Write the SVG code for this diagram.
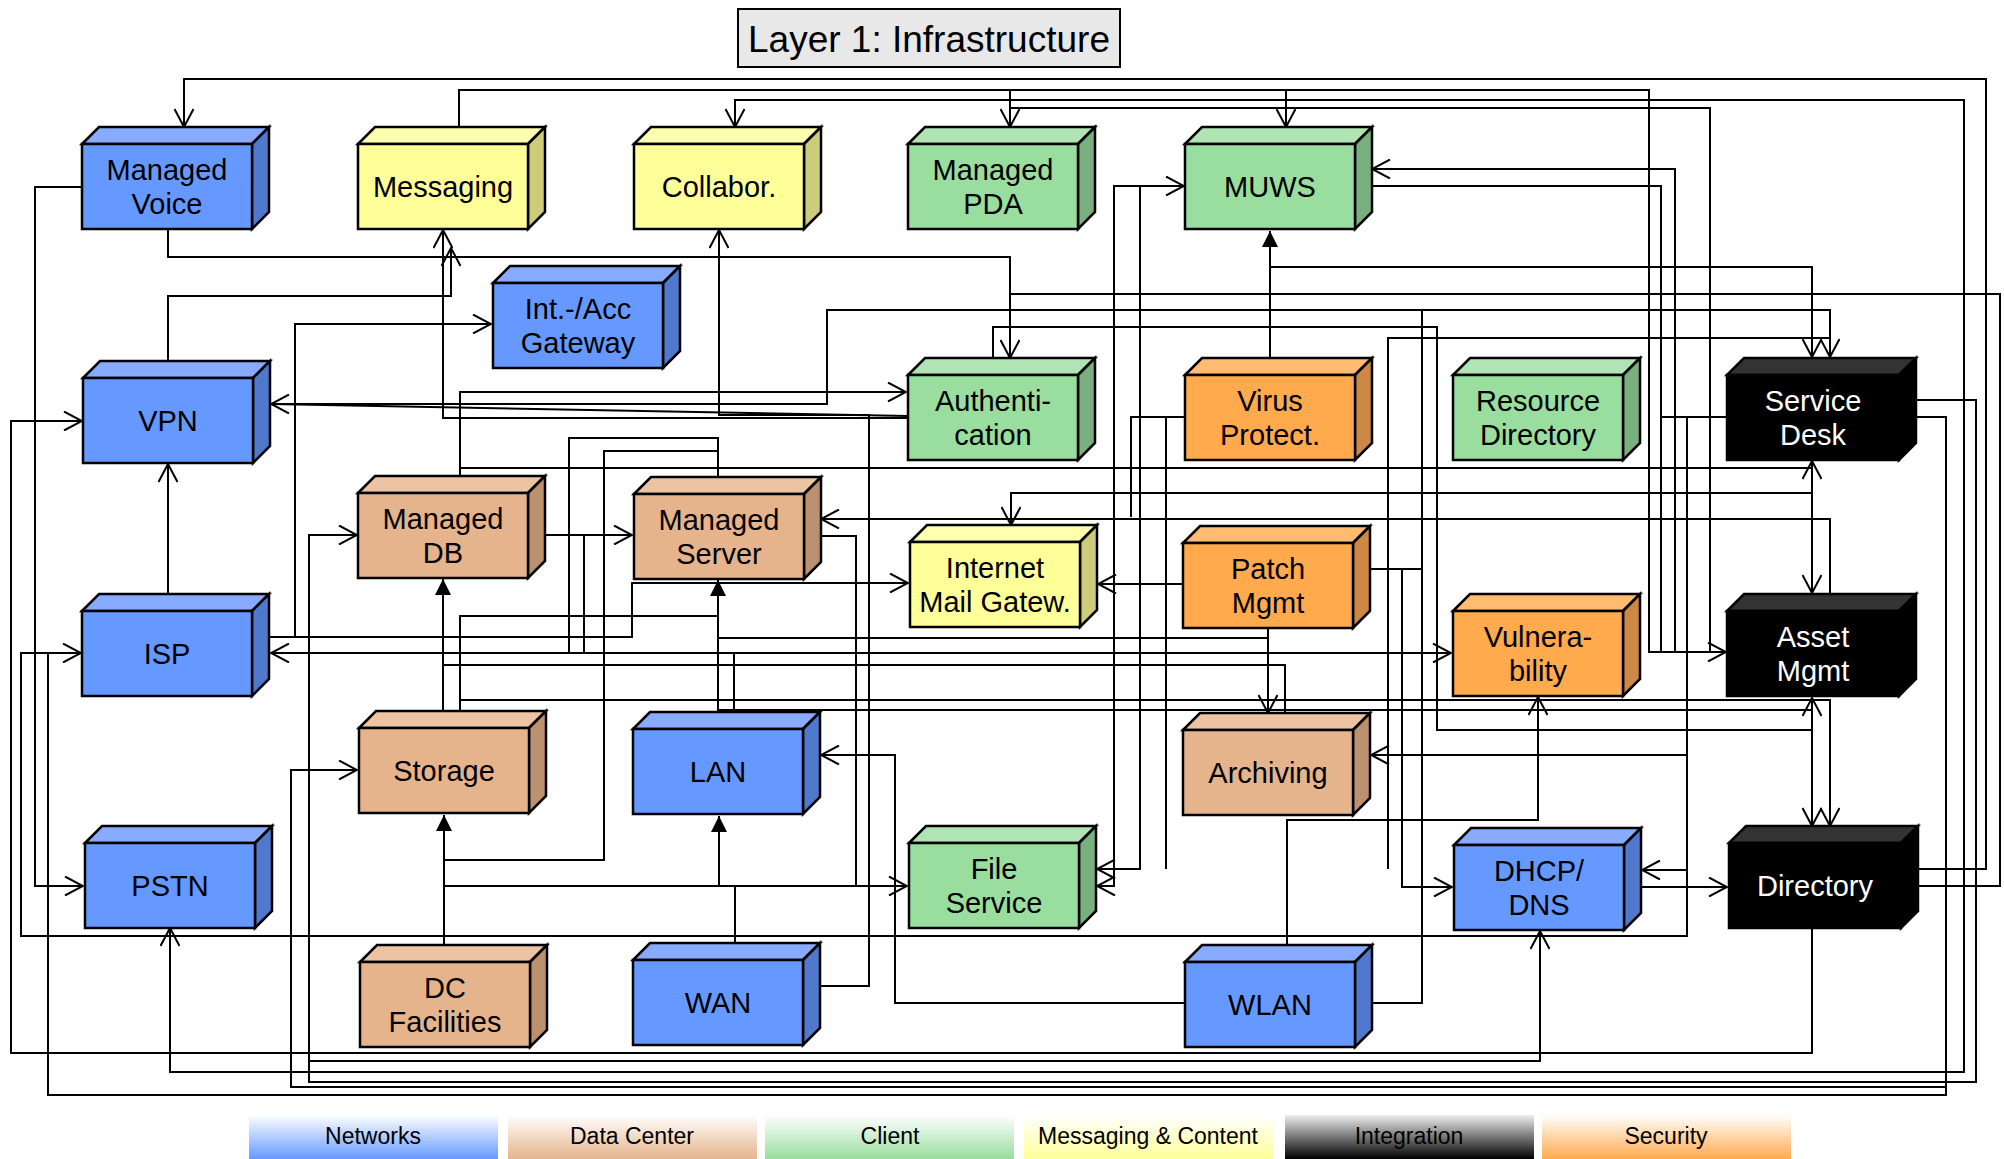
<svg xmlns="http://www.w3.org/2000/svg" width="2004" height="1159" viewBox="0 0 2004 1159">
<style>
text{font-family:"Liberation Sans",Arial,sans-serif;font-size:29px;text-anchor:middle;fill:#000}
.n rect,.n polygon{stroke:#000;stroke-width:2.5;stroke-linejoin:miter}
.net rect{fill:#6699ff}.net .t{fill:#88aaff}.net .s{fill:#5078cc}
.dc rect{fill:#e6b48c}.dc .t{fill:#ecc4a4}.dc .s{fill:#bb9170}
.cli rect{fill:#99dd9f}.cli .t{fill:#b0e4b4}.cli .s{fill:#7ab07f}
.msg rect{fill:#ffff99}.msg .t{fill:#ffffb0}.msg .s{fill:#cccc7a}
.sec rect{fill:#ffaa4d}.sec .t{fill:#ffbb70}.sec .s{fill:#cc8844}
.int rect{fill:#000}.int .t{fill:#333}.int .s{fill:#000}.int text{fill:#fff}
#connectors path{fill:none;stroke:#000;stroke-width:2}
.lg{font-size:23px}
</style>
<defs>
<marker id="a" viewBox="0 0 20 20" refX="19" refY="10" markerWidth="20" markerHeight="20" orient="auto-start-reverse" markerUnits="userSpaceOnUse"><path d="M1,0.5 L19,10 L1,19.5" fill="none" stroke="#000" stroke-width="2"/></marker>
<marker id="f" viewBox="0 0 16 16" refX="16" refY="8" markerWidth="16" markerHeight="16" orient="auto-start-reverse" markerUnits="userSpaceOnUse"><path d="M0,0 L16,8 L0,16 z" fill="#000"/></marker>
<linearGradient id="gNet" x1="0" y1="0" x2="0" y2="1"><stop offset="0" stop-color="#fff"/><stop offset="1" stop-color="#6699ff"/></linearGradient>
<linearGradient id="gDc" x1="0" y1="0" x2="0" y2="1"><stop offset="0" stop-color="#fff"/><stop offset="1" stop-color="#e6b48c"/></linearGradient>
<linearGradient id="gCli" x1="0" y1="0" x2="0" y2="1"><stop offset="0" stop-color="#fff"/><stop offset="1" stop-color="#99dd9f"/></linearGradient>
<linearGradient id="gMsg" x1="0" y1="0" x2="0" y2="1"><stop offset="0" stop-color="#fff"/><stop offset="1" stop-color="#ffff99"/></linearGradient>
<linearGradient id="gInt" x1="0" y1="0" x2="0" y2="1"><stop offset="0" stop-color="#eee"/><stop offset="1" stop-color="#000"/></linearGradient>
<linearGradient id="gSec" x1="0" y1="0" x2="0" y2="1"><stop offset="0" stop-color="#fff"/><stop offset="1" stop-color="#ffaa4d"/></linearGradient>
</defs>
<rect width="2004" height="1159" fill="#fff"/>
<g id="title"><rect x="738" y="9" width="382" height="58" fill="#e8e8e8" stroke="#000" stroke-width="2"/><text x="929" y="52" style="font-size:37px">Layer 1: Infrastructure</text></g>

<g id="connectors">
<path d="M1901 869H1986V79H184V127" marker-end="url(#a)"/>
<path d="M82 187H35V886H83" marker-end="url(#a)"/>
<path d="M168 229V257H1010V358" marker-end="url(#a)"/>
<path d="M1901 886H2000V294H1010"/>
<path d="M459 127V90H1649V652H1726" marker-end="url(#a)"/>
<path d="M1010 90V127" marker-end="url(#a)"/>
<path d="M1286 90V127" marker-end="url(#a)"/>
<path d="M735 127V100H1964V1072H170V928" marker-start="url(#a)" marker-end="url(#a)"/>
<path d="M1010 108H1710V652"/>
<path d="M1372 169H1675V652" marker-start="url(#a)"/>
<path d="M1355 186H1661V652"/>
<path d="M1184 186H1114V886H1097" marker-start="url(#a)" marker-end="url(#a)"/>
<path d="M1140 186V869H1097" marker-end="url(#a)"/>
<path d="M1185 417H1166V869"/>
<path d="M1166 417H1131V517"/>
<path d="M1388 869V338H1830"/>
<path d="M1270 358V231" marker-end="url(#f)"/>
<path d="M1270 267H1812V357" marker-end="url(#a)"/>
<path d="M271 404H827V310H1830V357" marker-start="url(#a)" marker-end="url(#a)"/>
<path d="M1370 569H1422"/>
<path d="M1355 1003H1422V310"/>
<path d="M1402 569V887H1452" marker-end="url(#a)"/>
<path d="M993 358V327H1437V730H1812"/>
<path d="M460 476V392H906" marker-end="url(#a)"/>
<path d="M460 468H1812"/>
<path d="M1812 461V593" marker-start="url(#a)" marker-end="url(#a)"/>
<path d="M1011 525V493H1812" marker-start="url(#a)"/>
<path d="M1830 594V519H821" marker-end="url(#a)"/>
<path d="M443 230V418H908" marker-start="url(#a)"/>
<path d="M168 378V296H451V248" marker-end="url(#a)"/>
<path d="M271 404L908 416"/>
<path d="M719 230V415H869V986H804" marker-start="url(#a)"/>
<path d="M253 637H295V324H491" marker-end="url(#a)"/>
<path d="M295 637H632V583H908" marker-end="url(#a)"/>
<path d="M271 653H1451" marker-start="url(#a)" marker-end="url(#a)"/>
<path d="M569 653V438H718V477"/>
<path d="M584 653V535"/>
<path d="M528 535H632" marker-end="url(#a)"/>
<path d="M734 712V653"/>
<path d="M718 451H604V860H444"/>
<path d="M803 536H856V886"/>
<path d="M444 815V945" marker-start="url(#f)"/>
<path d="M444 886H907" marker-end="url(#a)"/>
<path d="M735 943V886H719V816" marker-end="url(#f)"/>
<path d="M443 728V579" marker-end="url(#f)"/>
<path d="M460 711V616H718"/>
<path d="M460 700H1830V826" marker-end="url(#a)"/>
<path d="M443 665H1285V713"/>
<path d="M718 712V580" marker-end="url(#f)"/>
<path d="M718 638H1268"/>
<path d="M718 710H1812"/>
<path d="M1268 628V713" marker-end="url(#a)"/>
<path d="M1183 584H1098" marker-end="url(#a)"/>
<path d="M1812 698V826" marker-start="url(#a)" marker-end="url(#a)"/>
<path d="M1287 945V820H1538V697" marker-end="url(#a)"/>
<path d="M1185 1003H895V755H821" marker-end="url(#a)"/>
<path d="M1727 417H1661"/>
<path d="M1687 417V936H21V653H81" marker-end="url(#a)"/>
<path d="M1687 755H1371" marker-end="url(#a)"/>
<path d="M1687 870H1642" marker-end="url(#a)"/>
<path d="M1624 887H1727" marker-end="url(#a)"/>
<path d="M1899 400H1976V1082H309V535H357" marker-end="url(#a)"/>
<path d="M309 1061H1540V931" marker-end="url(#a)"/>
<path d="M1899 417H1946V1095H48V653"/>
<path d="M1946 1087H291V770H357" marker-end="url(#a)"/>
<path d="M1812 929V1053H11V421H82" marker-end="url(#a)"/>
<path d="M168 594V464" marker-end="url(#a)"/>
</g>

<g id="mv" class="n net"><polygon class="t" points="82,144 99,127 269,127 252,144"/><polygon class="s" points="252,144 269,127 269,212 252,229"/><rect x="82" y="144" width="170" height="85"/><text x="167" y="180">Managed</text><text x="167" y="214">Voice</text></g>
<g id="msg" class="n msg"><polygon class="t" points="358,144 375,127 545,127 528,144"/><polygon class="s" points="528,144 545,127 545,212 528,229"/><rect x="358" y="144" width="170" height="85"/><text x="443" y="197">Messaging</text></g>
<g id="col" class="n msg"><polygon class="t" points="634,144 651,127 821,127 804,144"/><polygon class="s" points="804,144 821,127 821,212 804,229"/><rect x="634" y="144" width="170" height="85"/><text x="719" y="197">Collabor.</text></g>
<g id="pda" class="n cli"><polygon class="t" points="908,144 925,127 1095,127 1078,144"/><polygon class="s" points="1078,144 1095,127 1095,212 1078,229"/><rect x="908" y="144" width="170" height="85"/><text x="993" y="180">Managed</text><text x="993" y="214">PDA</text></g>
<g id="muws" class="n cli"><polygon class="t" points="1185,144 1202,127 1372,127 1355,144"/><polygon class="s" points="1355,144 1372,127 1372,212 1355,229"/><rect x="1185" y="144" width="170" height="85"/><text x="1270" y="197">MUWS</text></g>
<g id="gw" class="n net"><polygon class="t" points="493,283 510,266 680,266 663,283"/><polygon class="s" points="663,283 680,266 680,351 663,368"/><rect x="493" y="283" width="170" height="85"/><text x="578" y="319">Int.-/Acc</text><text x="578" y="353">Gateway</text></g>
<g id="vpn" class="n net"><polygon class="t" points="83,378 100,361 270,361 253,378"/><polygon class="s" points="253,378 270,361 270,446 253,463"/><rect x="83" y="378" width="170" height="85"/><text x="168" y="431">VPN</text></g>
<g id="auth" class="n cli"><polygon class="t" points="908,375 925,358 1095,358 1078,375"/><polygon class="s" points="1078,375 1095,358 1095,443 1078,460"/><rect x="908" y="375" width="170" height="85"/><text x="993" y="411">Authenti-</text><text x="993" y="445">cation</text></g>
<g id="virus" class="n sec"><polygon class="t" points="1185,375 1202,358 1372,358 1355,375"/><polygon class="s" points="1355,375 1372,358 1372,443 1355,460"/><rect x="1185" y="375" width="170" height="85"/><text x="1270" y="411">Virus</text><text x="1270" y="445">Protect.</text></g>
<g id="res" class="n cli"><polygon class="t" points="1453,375 1470,358 1640,358 1623,375"/><polygon class="s" points="1623,375 1640,358 1640,443 1623,460"/><rect x="1453" y="375" width="170" height="85"/><text x="1538" y="411">Resource</text><text x="1538" y="445">Directory</text></g>
<g id="sd" class="n int"><polygon class="t" points="1727,375 1744,358 1916,358 1899,375"/><polygon class="s" points="1899,375 1916,358 1916,443 1899,460"/><rect x="1727" y="375" width="172" height="85"/><text x="1813" y="411">Service</text><text x="1813" y="445">Desk</text></g>
<g id="mdb" class="n dc"><polygon class="t" points="358,493 375,476 545,476 528,493"/><polygon class="s" points="528,493 545,476 545,561 528,578"/><rect x="358" y="493" width="170" height="85"/><text x="443" y="529">Managed</text><text x="443" y="563">DB</text></g>
<g id="msrv" class="n dc"><polygon class="t" points="634,494 651,477 821,477 804,494"/><polygon class="s" points="804,494 821,477 821,562 804,579"/><rect x="634" y="494" width="170" height="85"/><text x="719" y="530">Managed</text><text x="719" y="564">Server</text></g>
<g id="img" class="n msg"><polygon class="t" points="910,542 927,525 1097,525 1080,542"/><polygon class="s" points="1080,542 1097,525 1097,610 1080,627"/><rect x="910" y="542" width="170" height="85"/><text x="995" y="578">Internet</text><text x="995" y="612">Mail Gatew.</text></g>
<g id="patch" class="n sec"><polygon class="t" points="1183,543 1200,526 1370,526 1353,543"/><polygon class="s" points="1353,543 1370,526 1370,611 1353,628"/><rect x="1183" y="543" width="170" height="85"/><text x="1268" y="579">Patch</text><text x="1268" y="613">Mgmt</text></g>
<g id="isp" class="n net"><polygon class="t" points="82,611 99,594 269,594 252,611"/><polygon class="s" points="252,611 269,594 269,679 252,696"/><rect x="82" y="611" width="170" height="85"/><text x="167" y="664">ISP</text></g>
<g id="vuln" class="n sec"><polygon class="t" points="1453,611 1470,594 1640,594 1623,611"/><polygon class="s" points="1623,611 1640,594 1640,679 1623,696"/><rect x="1453" y="611" width="170" height="85"/><text x="1538" y="647">Vulnera-</text><text x="1538" y="681">bility</text></g>
<g id="asset" class="n int"><polygon class="t" points="1727,611 1744,594 1916,594 1899,611"/><polygon class="s" points="1899,611 1916,594 1916,679 1899,696"/><rect x="1727" y="611" width="172" height="85"/><text x="1813" y="647">Asset</text><text x="1813" y="681">Mgmt</text></g>
<g id="stor" class="n dc"><polygon class="t" points="359,728 376,711 546,711 529,728"/><polygon class="s" points="529,728 546,711 546,796 529,813"/><rect x="359" y="728" width="170" height="85"/><text x="444" y="781">Storage</text></g>
<g id="lan" class="n net"><polygon class="t" points="633,729 650,712 820,712 803,729"/><polygon class="s" points="803,729 820,712 820,797 803,814"/><rect x="633" y="729" width="170" height="85"/><text x="718" y="782">LAN</text></g>
<g id="arch" class="n dc"><polygon class="t" points="1183,730 1200,713 1370,713 1353,730"/><polygon class="s" points="1353,730 1370,713 1370,798 1353,815"/><rect x="1183" y="730" width="170" height="85"/><text x="1268" y="783">Archiving</text></g>
<g id="pstn" class="n net"><polygon class="t" points="85,843 102,826 272,826 255,843"/><polygon class="s" points="255,843 272,826 272,911 255,928"/><rect x="85" y="843" width="170" height="85"/><text x="170" y="896">PSTN</text></g>
<g id="file" class="n cli"><polygon class="t" points="909,843 926,826 1096,826 1079,843"/><polygon class="s" points="1079,843 1096,826 1096,911 1079,928"/><rect x="909" y="843" width="170" height="85"/><text x="994" y="879">File</text><text x="994" y="913">Service</text></g>
<g id="dhcp" class="n net"><polygon class="t" points="1454,845 1471,828 1641,828 1624,845"/><polygon class="s" points="1624,845 1641,828 1641,913 1624,930"/><rect x="1454" y="845" width="170" height="85"/><text x="1539" y="881">DHCP/</text><text x="1539" y="915">DNS</text></g>
<g id="dir" class="n int"><polygon class="t" points="1729,843 1746,826 1918,826 1901,843"/><polygon class="s" points="1901,843 1918,826 1918,911 1901,928"/><rect x="1729" y="843" width="172" height="85"/><text x="1815" y="896">Directory</text></g>
<g id="dc" class="n dc"><polygon class="t" points="360,962 377,945 547,945 530,962"/><polygon class="s" points="530,962 547,945 547,1030 530,1047"/><rect x="360" y="962" width="170" height="85"/><text x="445" y="998">DC</text><text x="445" y="1032">Facilities</text></g>
<g id="wan" class="n net"><polygon class="t" points="633,960 650,943 820,943 803,960"/><polygon class="s" points="803,960 820,943 820,1028 803,1045"/><rect x="633" y="960" width="170" height="85"/><text x="718" y="1013">WAN</text></g>
<g id="wlan" class="n net"><polygon class="t" points="1185,962 1202,945 1372,945 1355,962"/><polygon class="s" points="1355,962 1372,945 1372,1030 1355,1047"/><rect x="1185" y="962" width="170" height="85"/><text x="1270" y="1015">WLAN</text></g>

<g id="legend">
<rect x="249" y="1115" width="249" height="44" fill="url(#gNet)"/><text class="lg" x="373" y="1144">Networks</text>
<rect x="508" y="1115" width="249" height="44" fill="url(#gDc)"/><text class="lg" x="632" y="1144">Data Center</text>
<rect x="765" y="1115" width="249" height="44" fill="url(#gCli)"/><text class="lg" x="890" y="1144">Client</text>
<rect x="1024" y="1115" width="249" height="44" fill="url(#gMsg)"/><text class="lg" x="1148" y="1144">Messaging &amp; Content</text>
<rect x="1285" y="1115" width="249" height="44" fill="url(#gInt)"/><text class="lg" x="1409" y="1144">Integration</text>
<rect x="1542" y="1115" width="249" height="44" fill="url(#gSec)"/><text class="lg" x="1666" y="1144">Security</text>
</g>
</svg>
